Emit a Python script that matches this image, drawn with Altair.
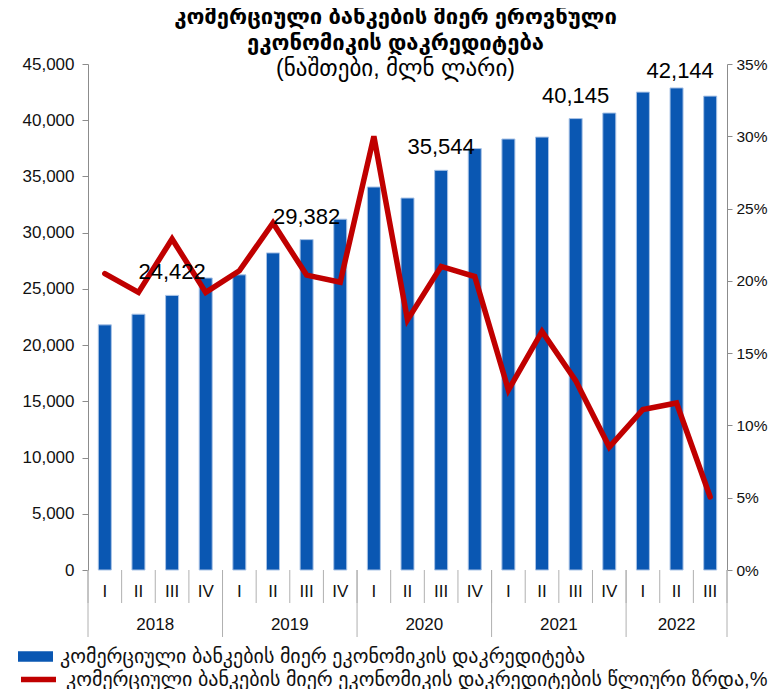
import altair as alt
import pandas as pd

quarters = ["I", "II", "III", "IV"] * 4 + ["I", "II", "III"]
years = ["2018"] * 4 + ["2019"] * 4 + ["2020"] * 4 + ["2021"] * 4 + ["2022"] * 3
credit = [21800, 22750, 24422, 25970, 26250, 28200, 29382, 31200, 34060, 33080,
          35544, 37480, 38330, 38500, 40145, 40640, 42500, 42870, 42144]
growth_pct = [20.5, 19.2, 22.9, 19.2, 20.7, 24.0, 20.4, 19.9, 30.0, 17.3,
              21.0, 20.3, 12.45, 16.5, 13.1, 8.5, 11.1, 11.55, 5.05]
labels = ["", "", "24,422", "", "", "", "29,382", "", "", "", "35,544", "",
          "", "", "40,145", "", "", "", "42,144"]

title_lines = ["კომერციული ბანკების მიერ ეროვნული", "ეკონომიკის დაკრედიტება"]
subtitle = "(ნაშთები, მლნ ლარი)"
bar_name = "კომერციული ბანკების მიერ ეკონომიკის დაკრედიტება"
line_name = "კომერციული ბანკების მიერ ეკონომიკის დაკრედიტების წლიური ზრდა,%"

FONT = "Liberation Sans, Arial, DejaVu Sans, sans-serif"
BLUE = "#0A57B2"
RED = "#C00000"
GRAY = "#8C8C8C"
W, H = 639, 506

n = len(credit)
df = pd.DataFrame({
    "idx": list(range(n)),
    "quarter": quarters,
    "year": years,
    "credit": credit,
    "growth": [g / 100 for g in growth_pct],
    "label": labels,
    "bar_series": [bar_name] * n,
    "line_series": [line_name] * n,
})
lab_main = df[(df["label"] != "") & (df["idx"] < n - 1)]
lab_last = df[(df["label"] != "") & (df["idx"] == n - 1)]

# separators between quarters and years
q_sep = pd.DataFrame({"b": [i - 0.5 for i in range(n + 1)]})
year_bounds = [-0.5]
for i in range(1, n):
    if years[i] != years[i - 1]:
        year_bounds.append(i - 0.5)
year_bounds.append(n - 0.5)
y_sep = pd.DataFrame({"b": year_bounds})
yr = df.groupby("year", as_index=False)["idx"].mean()

xs = alt.Scale(domain=[-0.5, n - 0.5], nice=False, zero=False, padding=0)
ys_left = alt.Scale(domain=[0, 45000], nice=False)
ys_right = alt.Scale(domain=[0, 0.35], nice=False)

bars = alt.Chart(df).mark_bar(size=13, stroke="#A9C3E6", strokeWidth=1).encode(
    x=alt.X("idx:Q", scale=xs,
            axis=alt.Axis(labels=False, ticks=False, title=None, grid=False,
                          domainColor=GRAY, values=[])),
    y=alt.Y("credit:Q", scale=ys_left,
            axis=alt.Axis(values=list(range(0, 45001, 5000)), format=",.0f",
                          title=None, grid=False, domainColor=GRAY,
                          tickColor=GRAY, tickSize=6, labelPadding=8,
                          labelFontSize=17, labelColor="#111", labelFont=FONT)),
    color=alt.Color("bar_series:N", scale=alt.Scale(range=[BLUE]),
                    legend=alt.Legend(orient="none", legendX=-70, legendY=575,
                                      title=None, symbolType="M-1,-0.3H1V0.3H-1Z",
                                      symbolSize=1225, symbolStrokeWidth=0,
                                      labelFontSize=20, labelFont=FONT,
                                      labelColor="#111", labelOffset=7,
                                      labelLimit=800)),
)

line = alt.Chart(df).mark_line(strokeWidth=5.5, strokeJoin="miter",
                               strokeCap="round").encode(
    x=alt.X("idx:Q", scale=xs, axis=None),
    y=alt.Y("growth:Q", scale=ys_right,
            axis=alt.Axis(orient="right", values=[i / 100 for i in range(0, 36, 5)],
                          format=".0%", title=None, grid=False, domainColor=GRAY,
                          tickColor=GRAY, tickSize=5, labelPadding=4,
                          labelFontSize=15.5, labelColor="#111", labelFont=FONT)),
    stroke=alt.Stroke("line_series:N", scale=alt.Scale(range=[RED]),
                      legend=alt.Legend(orient="none", legendX=-70, legendY=595,
                                        title=None, symbolType="stroke",
                                        symbolSize=1225, symbolStrokeWidth=5.5,
                                        labelFontSize=20, labelFont=FONT,
                                        labelColor="#111", labelOffset=7,
                                        labelLimit=800)),
)

txt_main = alt.Chart(lab_main).mark_text(
    baseline="bottom", dy=-11, fontSize=22, font=FONT, color="#000"
).encode(
    x=alt.X("idx:Q", scale=xs, axis=None),
    y=alt.Y("credit:Q", scale=ys_left, axis=None),
    text="label:N",
)
txt_last = alt.Chart(lab_last).mark_text(
    baseline="bottom", dy=-13, dx=-30, fontSize=22, font=FONT, color="#000"
).encode(
    x=alt.X("idx:Q", scale=xs, axis=None),
    y=alt.Y("credit:Q", scale=ys_left, axis=None),
    text="label:N",
)

qsep = alt.Chart(q_sep).mark_rule(color="#B0B0B0", strokeWidth=1).encode(
    x=alt.X("b:Q", scale=xs, axis=None),
    y=alt.value(H), y2=alt.value(H + 33),
)
ysep = alt.Chart(y_sep).mark_rule(color="#B0B0B0", strokeWidth=1).encode(
    x=alt.X("b:Q", scale=xs, axis=None),
    y=alt.value(H), y2=alt.value(H + 67),
)
qtext = alt.Chart(df).mark_text(fontSize=17, font=FONT, color="#111",
                                baseline="middle").encode(
    x=alt.X("idx:Q", scale=xs, axis=None),
    y=alt.value(H + 22),
    text="quarter:N",
)
ytext = alt.Chart(yr).mark_text(fontSize=17, font=FONT, color="#111",
                                baseline="middle").encode(
    x=alt.X("idx:Q", scale=xs, axis=None),
    y=alt.value(H + 55),
    text="year:N",
)

chart = alt.layer(
    bars, line, txt_main, txt_last, qsep, ysep, qtext, ytext
).resolve_scale(
    y="independent", color="independent", stroke="independent"
).properties(
    width=W, height=H,
    padding={"left": 80, "top": 56, "right": 43, "bottom": 119},
    autosize=alt.AutoSizeParams(type="none"),
    title=alt.TitleParams(
        text=title_lines, subtitle=subtitle, fontSize=22, fontWeight="bold",
        font=FONT, subtitleFont=FONT, subtitleFontSize=23, subtitleColor="#000",
        color="#000", anchor="middle", frame="group", offset=-27, dx=-12,
        lineHeight=26, subtitlePadding=3, subtitleLineHeight=25,
    ),
).configure_view(stroke=None)

chart.save("out.html", embed_options={"renderer": "svg", "actions": False})
